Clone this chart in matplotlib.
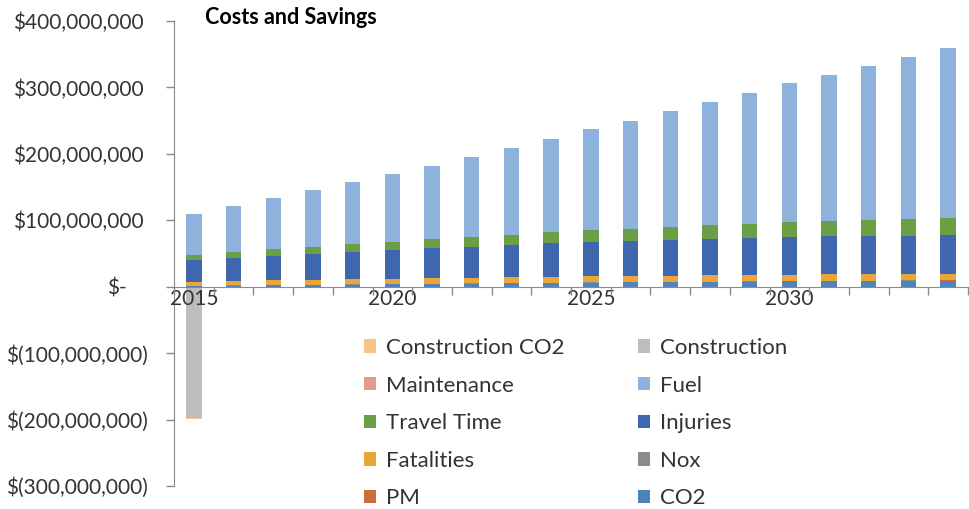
import matplotlib
matplotlib.use("Agg")
import matplotlib.pyplot as plt
import matplotlib.transforms as mtransforms
from matplotlib.patches import Patch
import numpy as np

# ── data (millions of dollars) ──────────────────────────────────────────────
years = list(range(2015, 2035))

co2 = [1.0, 1.5, 2.0, 2.5, 3.0, 3.5, 4.0, 4.5, 5.0, 5.5,
       6.0, 6.4, 6.8, 7.2, 7.6, 8.0, 8.3, 8.6, 8.9, 9.2]
pm = [0.3] * 20
nox = [0.3] * 20
fatalities = [5.9, 6.5, 6.8, 7.0, 7.4, 7.8, 8.2, 8.4, 8.6, 8.8,
              9.0, 9.1, 9.3, 9.4, 9.5, 9.6, 9.7, 9.8, 9.9, 10.0]
injuries = [32.5, 34.4, 37.1, 39.4, 41.0, 43.1, 45.2, 47.0, 48.8, 50.6,
            51.9, 53.4, 54.3, 55.3, 56.3, 56.8, 57.2, 57.5, 57.6, 57.7]
travel_time = [7.7, 8.8, 9.8, 10.8, 11.8, 12.8, 13.8, 14.6, 15.4, 16.3,
               17.2, 18.0, 19.0, 20.0, 21.0, 22.0, 23.2, 24.4, 25.5, 26.6]
fuel = [61.3, 69.2, 76.7, 84.7, 93.2, 101.2, 110.2, 119.9, 130.6, 141.2,
        152.3, 162.5, 174.0, 185.5, 196.0, 209.0, 220.0, 231.1, 243.5, 255.9]
maintenance = [-0.8] * 20
construction = [-196.5] + [0.0] * 19
construction_co2 = [-1.5] + [0.0] * 19

# stacking order, bottom first
series = [
    ("CO2", co2, "#5282BA"),
    ("PM", pm, "#CF6D3A"),
    ("Nox", nox, "#8C8C8C"),
    ("Fatalities", fatalities, "#E9A737"),
    ("Injuries", injuries, "#3F67B0"),
    ("Travel Time", travel_time, "#6C9F45"),
    ("Fuel", fuel, "#8DB3DD"),
    ("Maintenance", maintenance, "#E69A8B"),
    ("Construction", construction, "#BDBDBD"),
    ("Construction CO2", construction_co2, "#F8C488"),
]

ytick_vals = [400, 300, 200, 100, 0, -100, -200, -300]
ytick_labels = ["$400,000,000", "$300,000,000", "$200,000,000", "$100,000,000",
                "$-", "$(100,000,000)", "$(200,000,000)", "$(300,000,000)"]
xlabel_years = [2015, 2020, 2025, 2030]

# legend reading order (row by row, two columns)
legend_rows = [("Construction CO2", "Construction"), ("Maintenance", "Fuel"),
               ("Travel Time", "Injuries"), ("Fatalities", "Nox"), ("PM", "CO2")]

# ── plot ──
plt.rcParams["font.family"] = ["Lato", "DejaVu Sans"]
W, H = 969, 509
fig = plt.figure(figsize=(W / 100, H / 100), dpi=100)
ax = fig.add_axes([174 / W, 1 - 486 / H, (968 - 174) / W, (486 - 21) / H])
ax.set_axisbelow(False)   # year labels sit on top of the construction bar

x = np.arange(len(years))
pos_bottom = np.zeros(len(years))
neg_bottom = np.zeros(len(years))
colors = {}
for name, vals, color in series:
    v = np.array(vals) * 1e6
    bottom = np.where(v >= 0, pos_bottom, neg_bottom)
    ax.bar(x, v, width=0.39, bottom=bottom, color=color, linewidth=0, zorder=2)
    pos_bottom += np.where(v > 0, v, 0)
    neg_bottom += np.where(v < 0, v, 0)
    colors[name] = color

axis_gray = "#8A8A8A"
text_col = "#333333"

ax.set_ylim(-300e6, 400e6)
ax.set_xlim(-0.5, len(years) - 0.5)
for s in ("top", "right"):
    ax.spines[s].set_visible(False)
ax.spines["bottom"].set_position(("data", 0))
ax.spines["left"].set_color(axis_gray)
ax.spines["bottom"].set_color(axis_gray)

ax.set_yticks([v * 1e6 for v in ytick_vals])
ax.set_yticklabels(ytick_labels)
ax.tick_params(axis="y", direction="out", length=6, width=1, color=axis_gray,
               pad=13, labelsize=15, labelcolor=text_col)
# right edges differ with the accounting format: positives leave room for ")"
for lbl, txt in zip(ax.get_yticklabels(), ytick_labels):
    if txt == "$-":
        shift = -21
    elif txt.startswith("$("):
        shift = 0
    else:
        shift = -4
    off = mtransforms.ScaledTranslation(shift / 100, 0, fig.dpi_scale_trans)
    lbl.set_transform(lbl.get_transform() + off)

ax.set_xticks([years.index(y) for y in xlabel_years])
ax.set_xticklabels([str(y) for y in xlabel_years])
ax.set_xticks(np.arange(-0.5, len(years)), minor=True)
ax.tick_params(axis="x", which="major", length=0, pad=2, labelsize=15,
               labelcolor=text_col)
ax.tick_params(axis="x", which="minor", direction="out", length=6, width=1,
               color=axis_gray)

fig.text(205 / W, 1 - 18 / H, "Costs and Savings", fontsize=15.5,
         fontweight="bold", color="black", ha="left", va="center")

handles, labels = [], []
for col in range(2):
    for row in legend_rows:
        name = row[col]
        handles.append(Patch(facecolor=colors[name], edgecolor="none"))
        labels.append(name)
fig.legend(handles, labels, ncol=2, loc="upper left",
           bbox_to_anchor=(364 / W, 1 - 338 / H), frameon=False,
           fontsize=16, handlelength=0.55, handleheight=0.55, handletextpad=0.45,
           labelspacing=0.79, columnspacing=3.3, borderpad=0, borderaxespad=0,
           labelcolor=text_col)

fig.savefig("out.png", dpi=100)
